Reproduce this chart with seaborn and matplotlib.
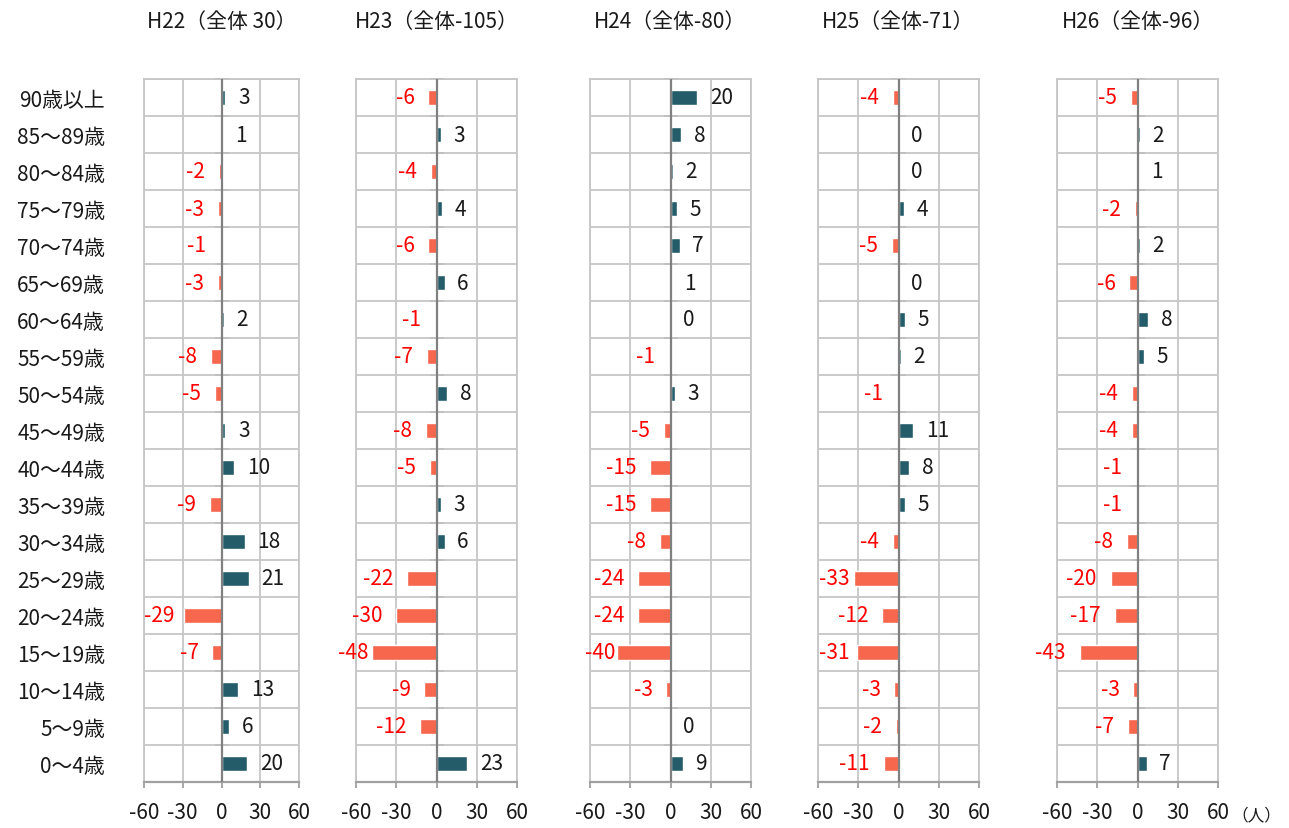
import numpy as np
import pandas as pd
import matplotlib
matplotlib.use("Agg")
import matplotlib.pyplot as plt
import seaborn as sns

# Age groups, top row first
ages = ["90歳以上", "85～89歳", "80～84歳", "75～79歳", "70～74歳", "65～69歳",
        "60～64歳", "55～59歳", "50～54歳", "45～49歳", "40～44歳", "35～39歳",
        "30～34歳", "25～29歳", "20～24歳", "15～19歳", "10～14歳", "5～9歳", "0～4歳"]

years = ["H22", "H23", "H24", "H25", "H26"]
totals = [30, -105, -80, -71, -96]

h22 = [3, 1, -2, -3, -1, -3, 2, -8, -5, 3, 10, -9, 18, 21, -29, -7, 13, 6, 20]
h23 = [-6, 3, -4, 4, -6, 6, -1, -7, 8, -8, -5, 3, 6, -22, -30, -48, -9, -12, 23]
h24 = [20, 8, 2, 5, 7, 1, 0, -1, 3, -5, -15, -15, -8, -24, -24, -40, -3, 0, 9]
h25 = [-4, 0, 0, 4, -5, 0, 5, 2, -1, 11, 8, 5, -4, -33, -12, -31, -3, -2, -11]
h26 = [-5, 2, 1, -2, 2, -6, 8, 5, -4, -4, -1, -1, -8, -20, -17, -43, -3, -7, 7]
series = [h22, h23, h24, h25, h26]

x_ticks = [-60, -30, 0, 30, 60]
x_tick_labels = ["-60", "-30", "0", "30", "60"]

# Colours
TEAL = "#245c69"
CORAL = "#f6674e"
GRID = "#c6c6c6"
ZERO = "#808080"
AXIS = "#a0a0a0"
TEXT = "#1a1a1a"
FS = 15

sns.set_theme(style="white")
plt.rcParams["font.family"] = ["Noto Sans CJK JP", "DejaVu Sans"]

W, H = 1289, 829
fig = plt.figure(figsize=(W / 100, H / 100), dpi=100)

# Panel geometry in pixels
panel_left = [144, 356, 590, 818, 1057]
panel_width = [155, 161, 161, 161, 161]
top_px, bot_px = 80, 783
label_limit = [144, 338, 585, 819, 1035]  # leftmost edge allowed for negative labels

neg_labels = []
for i, (year, total, vals) in enumerate(zip(years, totals, series)):
    ax = fig.add_axes([panel_left[i] / W, 1 - bot_px / H,
                       panel_width[i] / W, (bot_px - top_px) / H])
    df = pd.DataFrame({
        "age": ages,
        "value": vals,
        "sign": ["pos" if v >= 0 else "neg" for v in vals],
    })
    sns.barplot(data=df, x="value", y="age", hue="sign", order=ages,
                hue_order=["pos", "neg"], palette={"pos": TEAL, "neg": CORAL},
                dodge=False, width=0.43, saturation=1, errorbar=None,
                legend=False, ax=ax, zorder=2)

    ax.set_xlim(-60, 60)
    ax.set_ylim(18.5, -0.5)
    ax.set_xlabel("")
    ax.set_ylabel("")
    ax.set_xticks(x_ticks)
    ax.set_xticklabels(x_tick_labels)
    ax.set_yticks(range(len(ages)))
    ax.set_yticklabels(ages if i == 0 else [])
    ax.set_yticks(np.arange(-0.5, len(ages), 1), minor=True)

    ax.set_axisbelow(True)
    ax.grid(False)
    ax.grid(which="minor", axis="y", color=GRID, lw=1.3)
    ax.grid(which="major", axis="x", color=GRID, lw=1.3)

    ax.tick_params(axis="y", which="both", length=0, pad=28, labelsize=FS,
                   labelcolor=TEXT)
    ax.tick_params(axis="x", bottom=True, length=4, width=1.3, color=AXIS,
                   direction="out", pad=10, labelsize=FS, labelcolor=TEXT)

    for side in ["left", "right", "top"]:
        ax.spines[side].set_color(GRID)
        ax.spines[side].set_linewidth(1.3)
    ax.spines["bottom"].set_color(AXIS)
    ax.spines["bottom"].set_linewidth(1.6)

    ax.axvline(0, color=ZERO, lw=1.6, zorder=3)

    # small tick marks on the zero axis at each row boundary
    sec = ax.secondary_yaxis(0.5)
    sec.set_yticks(np.arange(-0.5, len(ages), 1))
    sec.set_yticklabels([])
    sec.tick_params(left=True, length=5, width=1.3, color=ZERO, direction="out")
    for sp in sec.spines.values():
        sp.set_visible(False)

    title = f"{year}（全体 {total}）" if total > 0 else f"{year}（全体{total}）"
    ax.text(0.5, 1 + 58 / (bot_px - top_px), title, transform=ax.transAxes,
            ha="center", va="center", fontsize=FS, color=TEXT)

    for j, v in enumerate(vals):
        if v >= 0:
            ax.annotate(str(v), xy=(v, j), xytext=(9, 0), textcoords="offset points",
                        ha="left", va="center", fontsize=FS, color=TEXT)
        else:
            ann = ax.annotate(str(v), xy=(v, j), xytext=(-10, 0),
                              textcoords="offset points", ha="right", va="center",
                              fontsize=FS, color="#ff0000")
            neg_labels.append((ann, label_limit[i]))

fig.text(1231 / W, 1 - 816 / H, "（人）", ha="left", va="center",
         fontsize=12, color=TEXT)

# keep long negative labels inside each panel's area
fig.canvas.draw()
renderer = fig.canvas.get_renderer()
for ann, lim in neg_labels:
    bb = ann.get_window_extent(renderer)
    if bb.x0 < lim:
        dx = (lim - bb.x0) * 72 / fig.dpi
        ann.xyann = (ann.xyann[0] + dx, ann.xyann[1])

fig.savefig("out.png", dpi=100)
